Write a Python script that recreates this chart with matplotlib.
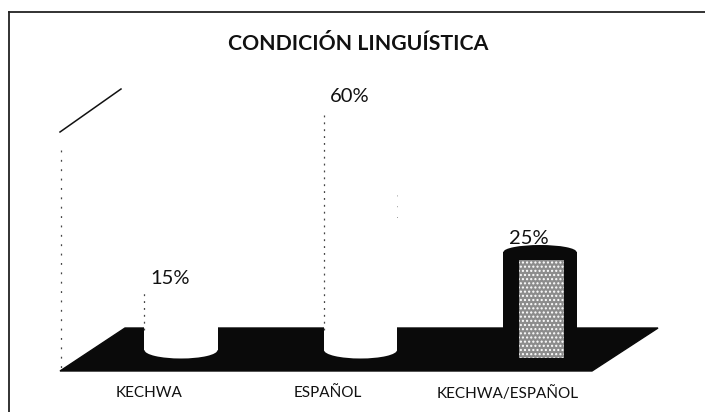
import matplotlib
matplotlib.use('Agg')
import matplotlib.pyplot as plt
from matplotlib.patches import Ellipse, Polygon

# values
categories = ['KECHWA', 'ESPAÑOL', 'KECHWA/ESPAÑOL']
values = [15, 60, 25]
labels = ['15%', '60%', '25%']

plt.rcParams['font.family'] = ['Lato', 'DejaVu Sans']

fig = plt.figure(figsize=(7.05, 4.12), dpi=100)

# background layer in pixels: frame, floor, wall
bg = fig.add_axes([0, 0, 1, 1])
bg.set_xlim(0, 705)
bg.set_ylim(412, 0)
bg.axis('off')
bg.plot([9, 9], [12, 412], color='#222222', lw=1.3)
bg.plot([9, 705], [12, 12], color='#222222', lw=1.3)
bg.add_patch(Polygon([(60, 371), (125, 328), (658, 328), (592, 371)], closed=True, color='#0a0a0a'))
bg.plot([60, 121], [132, 89], color='#111111', lw=1.1)
bg.plot([61, 61], [150, 371], color='#444444', lw=0.9, ls=(0, (1.5, 6)))
bg.plot([397, 397], [195, 225], color='#777777', lw=0.6, ls=(0, (1, 12)))
bg.text(358, 44, 'CONDICIÓN LINGUÍSTICA', ha='center', va='center', fontsize=15.3, fontweight='bold', color='#111111')

# bars layer: x is category index, y is percent
ax = fig.add_axes([0, 0, 1, 1])
ax.patch.set_alpha(0)
ax.set_xlim(-181 / 179.5, (705 - 181) / 179.5)
ax.set_ylim(-15, 88)
ax.axis('off')

floor = 0.5
width = 0.407
px_y = 0.25

for i, v in enumerate(values):
    if i < 2:
        ax.bar(i, v - floor, width, bottom=floor, color='white', linewidth=0)
        ax.add_patch(Ellipse((i, floor), width, 17 * px_y, color='white', lw=0))
        ax.plot([i - width / 2, i - width / 2], [5.5, v], color='#444444', lw=0.9, ls=(0, (1.5, 4)))
    else:
        ax.bar(i, v - 6, width, bottom=6, color='#0a0a0a', linewidth=0)
        ax.add_patch(Ellipse((i, v), width, 14 * px_y, color='#0a0a0a', lw=0))
        ax.bar(i + 0.01, v - 2 + 1.5, width * 0.62, bottom=-1.5, color='#8c8c8c',
               hatch='....', edgecolor='white', linewidth=0)

for i, text in enumerate(labels):
    ax.text(i - 0.173, values[i] + [3.5, 4, 3.5][i], text, ha='left', va='center', fontsize=14.5, color='#111111')

for i, name in enumerate(categories):
    ax.text(i - 0.18, -10.3, name, ha='center', va='center', fontsize=11, color='#111111')

fig.savefig('out.png', dpi=100)
